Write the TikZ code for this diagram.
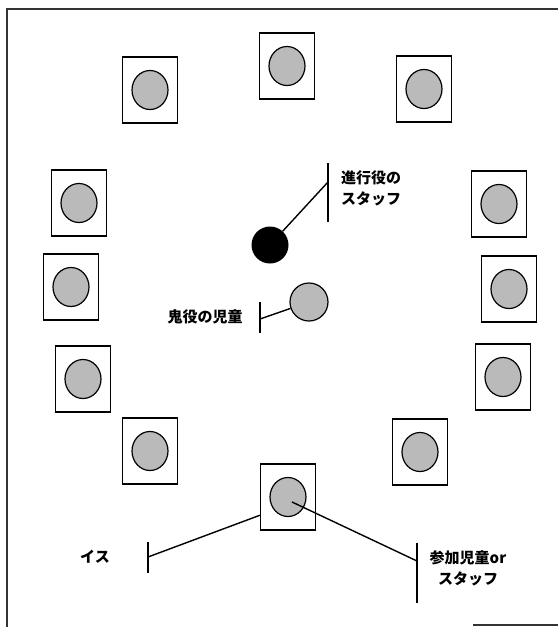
\documentclass[tikz,border=0pt]{standalone}
\usepackage{fontspec}
\newfontfamily\jp{Noto Sans CJK JP}
\usetikzlibrary{shapes.geometric}
\tikzset{
  frame/.style={line width=1.1pt, black!80},
  chair/.style={draw, line width=1.2pt, minimum width=55pt, minimum height=66pt, inner sep=0pt},
  person/.style={ellipse, draw, line width=1.2pt, fill=black!27, minimum width=36pt, minimum height=39pt, inner sep=0pt},
  boss/.style={circle, fill=black, minimum size=37pt, inner sep=0pt},
  tickline/.style={line width=1.4pt},
  lead/.style={line width=1.4pt},
  lbl/.style={font=\jp\bfseries\fontsize{15}{21}\selectfont, inner sep=0pt, align=center}
}
\begin{document}
\begin{tikzpicture}[x=1pt, y=-1pt]
\useasboundingbox (0,0) rectangle (558,627);
% frame
\draw[frame] (7,627) -- (7,9) -- (558,9);
\draw[frame] (473,625) -- (558,625);
% chairs
\node[chair] (c1) at (287,66) {};
\node[chair] (c2) at (150,90) {};
\node[chair] (c3) at (424,89) {};
\node[chair] (c4) at (79,203) {};
\node[chair] (c5) at (71,287) {};
\node[chair] (c6) at (83,379) {};
\node[chair] (c7) at (499,204) {};
\node[chair] (c8) at (509,289) {};
\node[chair] (c9) at (503,377) {};
\node[chair] (c10) at (150,451) {};
\node[chair] (c11) at (420,452) {};
\node[chair] (c12) at (288,497) {};
% persons
\foreach \i in {1,...,12} { \node[person] (p\i) at (c\i) {}; }
% central staff and oni
\node[boss] (boss) at (270,245) {};
\node[person, minimum width=38pt, minimum height=38pt] (oni) at (309,302) {};
% labels
\node[lbl] (lboss) at (371,188) {進行役の\\スタッフ};
\node[lbl] (loni) at (205,317) {鬼役の児童};
\node[lbl] (lisu) at (95,557) {イス};
\node[lbl] (lsan) at (468,568) {参加児童or\\スタッフ};
% ticks
\coordinate (bT) at (328,163); \coordinate (bB) at (328,222); \coordinate (bM) at (328,182);
\coordinate (oT) at (260,302); \coordinate (oB) at (260,333); \coordinate (oM) at (260,319);
\coordinate (iT) at (148,542); \coordinate (iB) at (148,573); \coordinate (iM) at (148,557);
\coordinate (sT) at (417,543); \coordinate (sB) at (417,603); \coordinate (sM) at (417,561);
\draw[tickline] (bT) -- (bB);
\draw[tickline] (oT) -- (oB);
\draw[tickline] (iT) -- (iB);
\draw[tickline] (sT) -- (sB);
% leads
\draw[lead] (boss) -- (bM);
\draw[lead] (oni) -- (oM);
\draw[lead] (c12.213) -- (iM);
\draw[lead] ([shift={(4pt,-5pt)}]p12.center) -- (sM);
\end{tikzpicture}
\end{document}
